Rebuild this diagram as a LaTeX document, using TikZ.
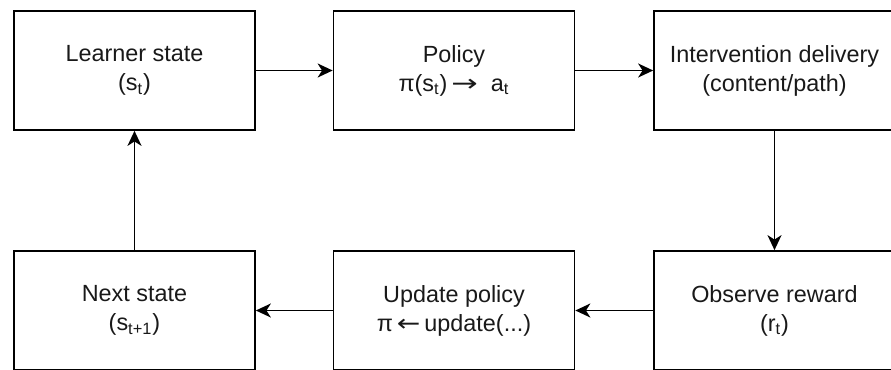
\documentclass[tikz,border=0pt]{standalone}
\usepackage{fontspec}
\setmainfont{Liberation Sans}
\newfontfamily\arrowfont{DejaVu Sans}
\usetikzlibrary{arrows.meta}

% wide text arrows
\newcommand{\toarrow}{\scalebox{1.35}[1]{\arrowfont →}}
\newcommand{\fromarrow}{\scalebox{1.2}[1]{\arrowfont ←}}

\begin{document}
\begin{tikzpicture}[
        x=0.5pt, y=-0.5pt,
        stage/.style={draw, line width=0.85pt, minimum width=120.5pt, minimum height=59.5pt,
            inner sep=0pt, align=center, text=black!90, font=\fontsize{11.7}{14.5}\selectfont},
        flow/.style={-{Stealth[length=7.5pt, width=7pt, inset=2.2pt]}, line width=0.85pt}
    ]
        \useasboundingbox (0,0) rectangle (891,370);
        \clip (0,0) rectangle (891,370);

        % top row
        \node[stage] (learner) at (134.5, 70.5) {Learner state\\(s\textsubscript{t})};
        \node[stage] (policy) at (454, 70.5) {Policy\\π(s\textsubscript{t})\,\toarrow\ \ a\textsubscript{t}};
        \node[stage] (delivery) at (774.5, 70.5) {Intervention delivery\\(content/path)};

        % bottom row
        \node[stage] (next) at (134.5, 310.5) {Next state\\(s\textsubscript{t+1})};
        \node[stage] (update) at (454, 310.5) {Update policy\\π\,\fromarrow\,update(...)};
        \node[stage] (reward) at (774.5, 310.5) {Observe reward\\(r\textsubscript{t})};

        \draw[flow] (learner) -- (policy);
        \draw[flow] (policy) -- (delivery);
        \draw[flow] (delivery) -- (reward);
        \draw[flow] (reward) -- (update);
        \draw[flow] (update) -- (next);
        \draw[flow] (next) -- (learner);
\end{tikzpicture}
\end{document}
